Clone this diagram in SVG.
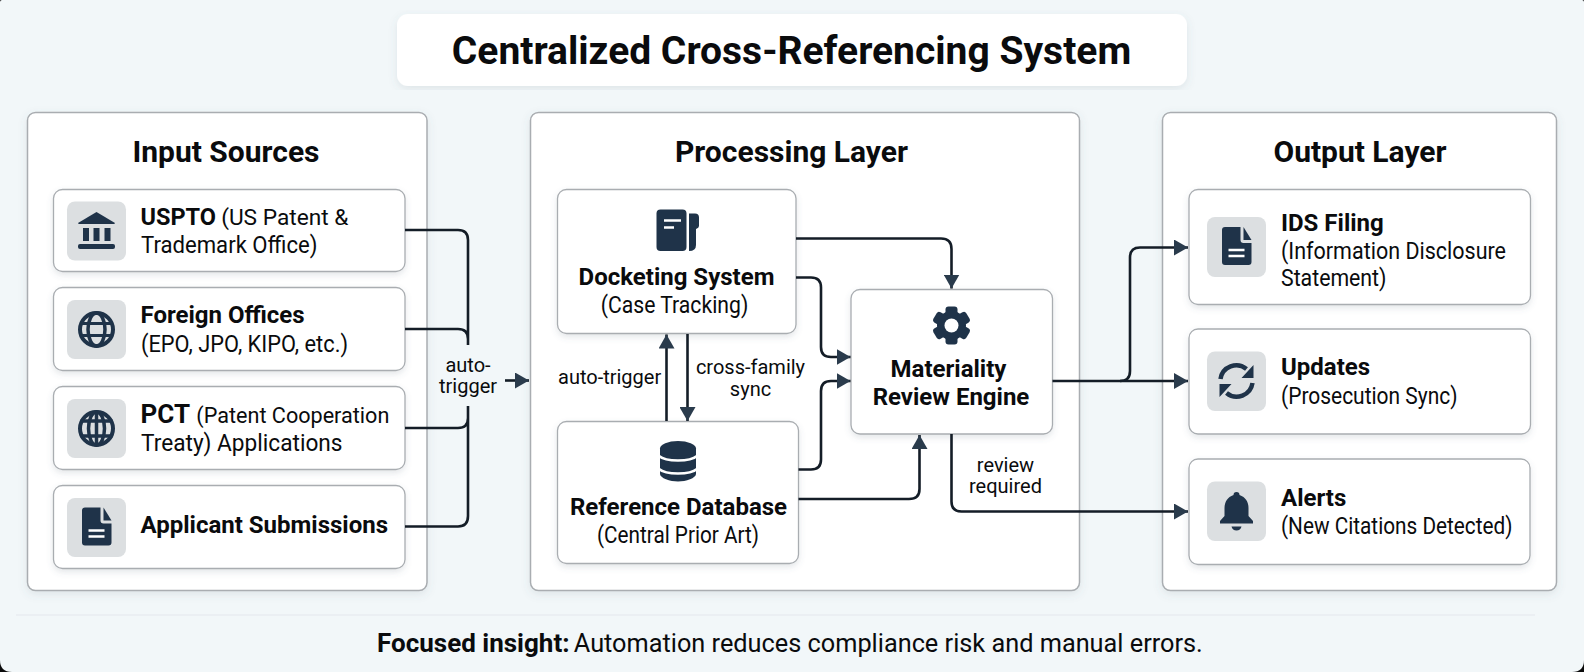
<svg xmlns="http://www.w3.org/2000/svg" xmlns:xlink="http://www.w3.org/1999/xlink" width="1584" height="672" viewBox="0 0 1584 672">
<style>
text{font-family:Roboto,"Liberation Sans",sans-serif;fill:#0a0b0d}
.t{font-size:24px}.b{font-weight:700}
.r{font-size:23px}
.h{font-size:30px;font-weight:700;text-anchor:middle}
.c{text-anchor:middle}
.l{font-size:20px}
.panel{fill:#fff;stroke:#a9adb1;stroke-width:1.5;filter:url(#s)}
.box{fill:#fff;stroke:#a9adb1;stroke-width:1.3;filter:url(#s2)}
.tile{fill:#dcdfe1}
.dk{fill:#1f3349}
.wl{stroke:#fff;stroke-width:2.6;fill:none}
.wire{fill:none;stroke:#141d27;stroke-width:2.6}
.arr{marker-end:url(#a)}
</style>
<defs>
<filter id="s" x="-5%" y="-5%" width="110%" height="110%"><feDropShadow dx="0" dy="3" stdDeviation="4" flood-color="#5a6b7a" flood-opacity=".13"/></filter>
<filter id="s2" x="-5%" y="-10%" width="110%" height="125%"><feDropShadow dx="0" dy="3" stdDeviation="3" flood-color="#5a6b7a" flood-opacity=".16"/></filter>
<marker id="a" markerUnits="userSpaceOnUse" markerWidth="15" markerHeight="16" refX="14" refY="8" orient="auto"><path d="M0 0L14 8L0 16Z" fill="#2a3b4c"/></marker>
<g id="doc"><path class="dk" d="M-11.5 -20H4V-7Q4 -4 7 -4H15V15Q15 18 12 18H-11.5Q-14.500 18 -14.500 15V-17Q-14.500 -20 -11.500 -20Z"/><path class="dk" d="M7 -20L15 -7H7Z"/><path class="wl" d="M-8 3H8M-8 9H8"/></g>
</defs>
<path fill="#0b0b0b" d="M0 0H1584V672H0Z"/>
<path fill="#f2f7f9" d="M2 0H1582Q1584 0 1584 2V660Q1584 672 1572 672H12Q0 672 0 660V2Q0 0 2 0Z"/>

<g id="title"><rect x="397" y="14" width="790" height="72" rx="11" fill="#fff" filter="url(#s)"/><text x="791.500" y="63.500" class="c b" font-size="39">Centralized Cross-Referencing System</text></g>

<g id="panel-input"><rect class="panel" x="27.500" y="112.500" width="399.500" height="478" rx="8"/><text class="h" x="226" y="161.500">Input Sources</text></g>
<g id="panel-processing"><rect class="panel" x="530.500" y="112.500" width="549" height="478" rx="8"/><text class="h" x="791.500" y="161.500">Processing Layer</text></g>
<g id="panel-output"><rect class="panel" x="1162.500" y="112.500" width="394" height="478" rx="8"/><text class="h" x="1360" y="161.500">Output Layer</text></g>

<g id="node-uspto"><rect class="box" x="53.500" y="189.500" width="351.500" height="82" rx="9"/><rect class="tile" x="67" y="201.500" width="59" height="59" rx="8"/>
<g transform="translate(96.500 231)"><path class="dk" d="M0 -19L18.500 -8Q18.500 -7 17 -7H-17Q-18.500 -7 -18.500 -8Z"/><rect class="dk" x="-13.500" y="-3" width="6" height="13"/><rect class="dk" x="-3" y="-3" width="6" height="13"/><rect class="dk" x="8" y="-3" width="6" height="13"/><rect class="dk" x="-18.500" y="13" width="37" height="5" rx="2"/></g>
<text class="t" x="140.500" y="225"><tspan class="b" font-size="23.500">USPTO</tspan><tspan x="215.500" font-size="22.700"> (US Patent &amp;</tspan></text><text class="r" x="141" y="253" textLength="176.500" lengthAdjust="spacingAndGlyphs">Trademark Office)</text></g>

<g id="node-foreign"><rect class="box" x="53.500" y="287.500" width="351.500" height="83" rx="9"/><rect class="tile" x="67" y="300" width="59" height="59" rx="8"/>
<g transform="translate(96.500 329.500)" fill="none" stroke="#1f3349"><circle r="16.500" stroke-width="4"/><ellipse rx="8.500" ry="16.500" stroke-width="3.500"/><path d="M-16 -6H16M-16 6H16" stroke-width="3"/></g>
<text class="t b" x="140.500" y="323">Foreign Offices</text><text class="r" x="141" y="351.500" textLength="207" lengthAdjust="spacingAndGlyphs">(EPO, JPO, KIPO, etc.)</text></g>

<g id="node-pct"><rect class="box" x="53.500" y="386.500" width="351.500" height="83" rx="9"/><rect class="tile" x="67" y="399" width="59" height="59" rx="8"/>
<g transform="translate(96.500 428.500)" fill="none" stroke="#1f3349"><circle r="16.500" stroke-width="4"/><ellipse rx="8" ry="16.500" stroke-width="3.500"/><path d="M-16 -7.500H16M-16 7.500H16M0 -16V16" stroke-width="3.500"/></g>
<text class="t" x="140.500" y="422.500"><tspan class="b" font-size="26">PCT</tspan><tspan x="191" font-size="21.600"> (Patent Cooperation</tspan></text><text class="r" x="141" y="451" textLength="201.500" lengthAdjust="spacingAndGlyphs">Treaty) Applications</text></g>

<g id="node-applicant"><rect class="box" x="53.500" y="485.500" width="351.500" height="83" rx="9"/><rect class="tile" x="67" y="498" width="59" height="59" rx="8"/>
<use xlink:href="#doc" href="#doc" x="96.500" y="527.500"/>
<text class="t b" x="140.500" y="533">Applicant Submissions</text></g>

<g id="node-docketing"><rect class="box" x="557.500" y="189.500" width="238.500" height="144" rx="9"/>
<rect class="dk" x="656.500" y="209.500" width="30" height="41.500" rx="4"/><path class="dk" d="M689 213.500H695Q699 213.500 699 217.500V226Q699 228 696 229V245Q696 251 689 251Z"/><path class="wl" d="M664 220.500H681M664 227.500H674"/>
<text class="t b c" x="676.500" y="284.500">Docketing System</text><text class="r c" x="674.500" y="312.500" textLength="147.500" lengthAdjust="spacingAndGlyphs">(Case Tracking)</text></g>

<g id="node-reference"><rect class="box" x="557.500" y="421.500" width="241" height="142" rx="9"/>
<g transform="translate(678 461)"><path class="dk" d="M-18 -13V13C-18 17 -8 20.500 0 20.500S18 17 18 13V-13Z"/><ellipse class="dk" cy="-12.500" rx="18" ry="7.500"/><path class="wl" d="M-19 -5C-12 1 12 1 19 -5M-19 8C-12 14 12 14 19 8"/></g>
<text class="t b c" x="678.500" y="515">Reference Database</text><text class="r c" x="678" y="542.500" textLength="162" lengthAdjust="spacingAndGlyphs">(Central Prior Art)</text></g>

<g id="node-materiality"><rect class="box" x="851" y="289.500" width="201.500" height="144.500" rx="9"/>
<g transform="translate(951.500 325.500)"><circle class="dk" r="14.500"/><g class="dk"><rect x="-6" y="-19" width="12" height="38" rx="3"/><rect x="-6" y="-19" width="12" height="38" rx="3" transform="rotate(60)"/><rect x="-6" y="-19" width="12" height="38" rx="3" transform="rotate(120)"/></g><circle r="7" fill="#fff"/></g>
<text class="t b c" x="948.500" y="376.500">Materiality</text><text class="t b c" x="951" y="405">Review Engine</text></g>

<g id="node-ids"><rect class="box" x="1189" y="189.500" width="341.500" height="115" rx="9"/><rect class="tile" x="1207" y="217" width="59" height="60" rx="8"/>
<use xlink:href="#doc" href="#doc" x="1236.500" y="247"/>
<text class="t b" x="1281" y="230.500">IDS Filing</text><text class="r" x="1281" y="258.500" textLength="225" lengthAdjust="spacingAndGlyphs">(Information Disclosure</text><text class="r" x="1281" y="286" textLength="105.500" lengthAdjust="spacingAndGlyphs">Statement)</text></g>

<g id="node-updates"><rect class="box" x="1189" y="329" width="341.500" height="105" rx="9"/><rect class="tile" x="1207" y="351.500" width="59" height="59.500" rx="8"/>
<g transform="translate(1236.500 381)"><path fill="none" stroke="#1f3349" stroke-width="4.500" d="M-16 -2A16 16 0 0 1 10 -12M16 2A16 16 0 0 1 -10 12"/><path class="dk" d="M17 -16V-3H5ZM-17 16V3H-5Z"/></g>
<text class="t b" x="1281" y="375">Updates</text><text class="r" x="1281" y="403.500" textLength="176.500" lengthAdjust="spacingAndGlyphs">(Prosecution Sync)</text></g>

<g id="node-alerts"><rect class="box" x="1189" y="459" width="341" height="105.500" rx="9"/><rect class="tile" x="1207" y="481.500" width="59" height="59.500" rx="8"/>
<g transform="translate(1236.500 492)"><path class="dk" d="M-3 3Q-3 0 0 0T3 3C9 5 12 10 12 16V24L16.500 29V31.500H-16.500V29L-12 24V16C-12 10 -9 5 -3 3Z"/><path class="dk" d="M-5 34.500H5Q4 38.500 0 38.500T-5 34.500Z"/></g>
<text class="t b" x="1281" y="506">Alerts</text><text class="r" x="1281" y="534" textLength="231.500" lengthAdjust="spacingAndGlyphs">(New Citations Detected)</text></g>

<g id="connectors">
<path class="wire" d="M405 230H458Q468 230 468 240V345M405 329H458Q468 329 468 339"/>
<path class="wire" d="M468 406V516Q468 526.500 458 526.500H405M405 428H458Q468 428 468 418"/>
<path class="wire arr" d="M505 380.500H529"/>
<path class="wire arr" d="M796 238.500H941Q951.500 238.500 951.500 249V288.500"/>
<path class="wire arr" d="M796 277.500H811Q821 277.500 821 287.500V347Q821 357 831 357H850.500"/>
<path class="wire arr" d="M798.500 469.500H811Q821 469.500 821 459.500V391Q821 381 831 381H850.500"/>
<path class="wire arr" d="M798.500 499H909Q919.500 499 919.500 489V435"/>
<path class="wire arr" d="M666.500 421V334.500"/>
<path class="wire arr" d="M687.500 334V421"/>
<path class="wire arr" d="M1052.500 381H1188"/>
<path class="wire arr" d="M1120 381Q1130 381 1130 371V257.500Q1130 247.500 1140 247.500H1188"/>
<path class="wire arr" d="M951.500 434V501.500Q951.500 511.500 961.500 511.500H1188"/>
</g>
<g id="labels">
<text class="l c" x="468" y="371.500">auto-</text><text class="l c" x="468" y="392.500">trigger</text>
<text class="l" x="558" y="383.500">auto-trigger</text>
<text class="l c" x="750.500" y="374">cross-family</text><text class="l c" x="750.500" y="396">sync</text>
<text class="l c" x="1005.500" y="471.500">review</text><text class="l c" x="1005.500" y="492.500">required</text>
</g>
<g id="footer"><path d="M16 615H1535" stroke="#e9edf0" stroke-width="1.500"/><text x="377" y="651.500" font-size="25.300"><tspan class="b" font-size="26">Focused insight:</tspan><tspan x="567.500"> Automation reduces compliance risk and manual errors.</tspan></text></g>
</svg>
